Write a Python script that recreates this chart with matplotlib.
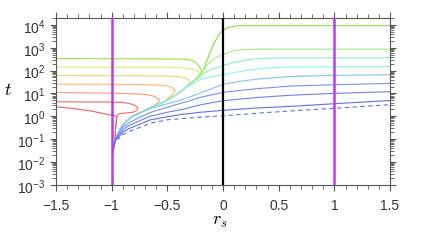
import numpy as np
import matplotlib
matplotlib.use("Agg")
import matplotlib.pyplot as plt
from matplotlib.ticker import LogLocator, MultipleLocator, NullFormatter

plt.rcParams['font.family'] = ['Liberation Sans', 'DejaVu Sans']

# shared trunk that every trajectory climbs from the bottom (x = r_s, y = t)
TRUNK_X = [-0.99, -0.985, -0.975, -0.96, -0.94, -0.91, -0.87, -0.82, -0.75,
           -0.68, -0.6, -0.52, -0.45, -0.39, -0.33, -0.28, -0.23, -0.19]
TRUNK_T = [0.025, 0.035, 0.063, 0.11, 0.2, 0.35, 0.6, 0.95, 1.4,
           2.0, 2.9, 4.6, 7.1, 11, 19, 30, 50, 83]

# left-going branches (leave trunk, turn round, run out to r_s = -1.5)
RED1_X = [-0.97, -0.965, -0.96, -0.955, -0.955, -0.965, -1.0, -1.1, -1.2, -1.35, -1.5]
RED1_T = [0.1, 0.25, 0.5, 0.8, 0.95, 1.05, 1.1, 1.4, 1.75, 2.2, 2.6]
RED2_X = [-0.972, -0.967, -0.962, -0.958, -0.95, -0.93, -0.87, -0.81, -0.775, -0.765,
          -0.79, -0.84, -0.9, -1.0, -1.5]
RED2_T = [0.1, 0.25, 0.5, 0.8, 1.1, 1.3, 1.4, 1.5, 1.8, 2.3, 3.0, 3.6, 4.0, 4.2, 4.3]
SALMON_X = [-0.64, -0.6, -0.575, -0.572, -0.585, -0.62, -0.68, -0.8, -1.0, -1.5]
SALMON_T = [2.6, 3.4, 4.3, 5.0, 6.2, 7.6, 8.8, 9.6, 10.2, 11]
ORANGE_X = [-0.49, -0.45, -0.43, -0.44, -0.47, -0.52, -0.6, -0.8, -1.0, -1.5]
ORANGE_T = [6.5, 9.5, 12.6, 16, 19.5, 22, 23.5, 24.5, 25, 25.5]
YELLOW_X = [-0.35, -0.31, -0.296, -0.305, -0.33, -0.38, -0.45, -0.7, -1.5]
YELLOW_T = [16, 24, 30, 38, 46, 53, 57, 59, 61]
YGREEN_X = [-0.245, -0.215, -0.207, -0.215, -0.24, -0.28, -0.35, -0.5, -1.0, -1.5]
YGREEN_T = [42, 58, 68, 82, 103, 120, 132, 137, 140, 142]
GREENL_X = [-0.2, -0.22, -0.25, -0.29, -0.36, -0.5, -1.0, -1.5]
GREENL_T = [115, 170, 240, 290, 315, 325, 330, 335]

# right-going branches (leave trunk, run out to r_s = 1.5)
GREENR_X = [-0.18, -0.147, -0.117, -0.087, -0.057, -0.027, 0.0, 0.033, 0.093, 0.15, 0.25, 1.5]
GREENR_T = [95, 257, 600, 1380, 2600, 4570, 5600, 7400, 8700, 9200, 9300, 9300]
LGREEN_X = [-0.15, -0.1, -0.05, 0.0, 0.05, 0.1, 0.18, 0.3, 1.5]
LGREEN_T = [158, 282, 400, 500, 630, 740, 830, 870, 870]
MINT_X = [-0.23, -0.15, -0.08, 0.0, 0.1, 0.2, 0.3, 0.45, 0.7, 1.5]
MINT_T = [45, 90, 126, 166, 229, 288, 330, 355, 363, 363]
CYAN_X = [-0.28, -0.2, -0.1, 0.0, 0.1, 0.2, 0.3, 0.4, 0.6, 1.0, 1.5]
CYAN_T = [25, 42, 54, 66, 83, 100, 117, 132, 145, 148, 151]
LBLUE_X = [-0.6, -0.5, -0.4, -0.3, -0.15, 0.0, 0.15, 0.3, 0.6, 1.0, 1.5]
LBLUE_T = [2.6, 3.5, 4.8, 7.0, 13, 25, 34, 42, 55, 62, 66]
BLUE_X = [-0.94, -0.9, -0.85, -0.75, -0.656, -0.5, -0.356, -0.2, 0.0, 0.3, 0.6, 1.0, 1.5]
BLUE1_T = [0.17, 0.32, 0.5, 0.9, 1.45, 2.5, 4.0, 6.8, 11.2, 16, 21, 24, 27.5]
BLUE2_T = [0.14, 0.25, 0.38, 0.63, 1.0, 1.5, 2.05, 3.2, 4.8, 6.6, 8.3, 10, 12]
BLUE3_T = [0.12, 0.2, 0.28, 0.44, 0.69, 0.95, 1.23, 1.5, 1.82, 2.3, 2.7, 3.55, 4.9]
DASHED_T = [0.1, 0.16, 0.21, 0.32, 0.49, 0.7, 0.8, 0.92, 1.05, 1.35, 1.7, 2.24, 3.2]

# (branch x, branch t, number of trunk points used, colour, style)
curves = [
    (RED1_X, RED1_T, 3, '#f25c5c', '-'),
    (RED2_X, RED2_T, 3, '#f76a5e', '-'),
    (SALMON_X, SALMON_T, 10, '#f99a82', '-'),
    (ORANGE_X, ORANGE_T, 12, '#fbb868', '-'),
    (YELLOW_X, YELLOW_T, 14, '#f2d86a', '-'),
    (YGREEN_X, YGREEN_T, 16, '#d9ef72', '-'),
    (GREENL_X, GREENL_T, 18, '#92e24a', '-'),
    (GREENR_X, GREENR_T, 18, '#86e03c', '-'),
    (LGREEN_X, LGREEN_T, 18, '#9eee78', '-'),
    (MINT_X, MINT_T, 16, '#8eeeb4', '-'),
    (CYAN_X, CYAN_T, 15, '#8cf2ee', '-'),
    (LBLUE_X, LBLUE_T, 10, '#84c2f6', '-'),
    (BLUE_X, BLUE1_T, 4, '#7494f4', '-'),
    (BLUE_X, BLUE2_T, 4, '#6a80f4', '-'),
    (BLUE_X, BLUE3_T, 4, '#5e70ee', '-'),
    (BLUE_X, DASHED_T, 4, '#5e70ee', (0, (4, 3))),
]

fig = plt.figure(figsize=(4.31, 2.51), dpi=100)
ax = fig.add_axes([0.130, 0.260, 0.775, 0.664])

for bx, bt, k, c, ls in curves:
    xs = TRUNK_X[:k] + bx
    ts = TRUNK_T[:k] + bt
    ax.plot(xs, ts, color=c, lw=0.8, ls=ls, zorder=2)

ax.axvline(-1, color='#b83cf0', lw=1.8, zorder=3)
ax.axvline(1, color='#b83cf0', lw=1.8, zorder=3)
ax.axvline(0, color='black', lw=1.6, zorder=3)

ax.set_yscale('log')
ax.set_xlim(-1.5, 1.5)
ax.set_ylim(1e-3, 2e4)

ax.set_xticks([-1.5, -1, -0.5, 0, 0.5, 1, 1.5])
ax.set_xticklabels(['\u22121.5', '\u22121', '\u22120.5', '0', '0.5', '1', '1.5'])
ax.xaxis.set_minor_locator(MultipleLocator(0.1))
yt = [1e-3, 1e-2, 1e-1, 1, 1e1, 1e2, 1e3, 1e4]
ax.set_yticks(yt)
ax.set_yticklabels([r'$\mathregular{10^{%d}}$' % e for e in range(-3, 5)])
ax.yaxis.set_minor_locator(LogLocator(base=10, subs=np.arange(2, 10), numticks=20))
ax.yaxis.set_minor_formatter(NullFormatter())

ax.tick_params(which='both', direction='out', top=True, right=True,
               color='#555555', labelcolor='#333333', labelsize=10)
ax.tick_params(which='major', length=4.5, width=0.8)
ax.tick_params(which='minor', length=2.8, width=0.6)
ax.tick_params(axis='x', which='major', pad=5)
ax.tick_params(axis='y', which='major', pad=3)
for s in ax.spines.values():
    s.set_color('#555555')
    s.set_linewidth(0.8)

ax.set_xlabel(r'$r_s$', fontsize=13, math_fontfamily='cm')
ax.set_ylabel(r'$t$', fontsize=13, math_fontfamily='cm', rotation=0, va='center')
ax.xaxis.set_label_coords(0.49, -0.165)
ax.yaxis.set_label_coords(-0.145, 0.57)

fig.savefig('out.png', dpi=100)
